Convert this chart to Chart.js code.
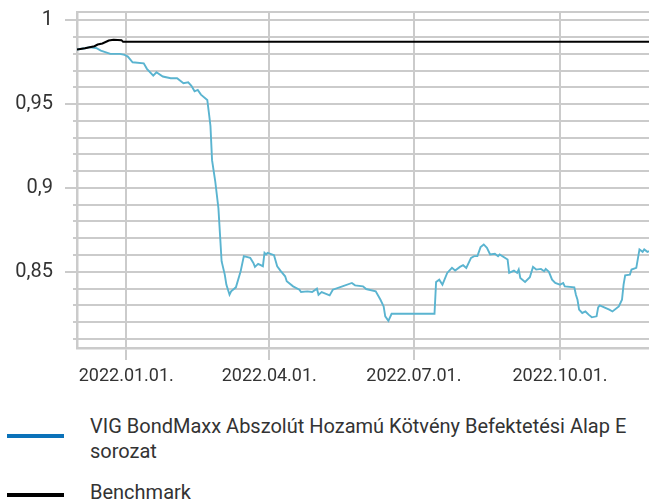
<!DOCTYPE html>
<html>
<head>
<meta charset="utf-8">
<script src="https://cdn.jsdelivr.net/npm/chart.js@4/dist/chart.umd.min.js"></script>
<style>
  body { margin: 0; background: #fff; font-family: Roboto, sans-serif; color: #333; }
  #wrap { position: relative; width: 649px; height: 500px; overflow: hidden; }
  #chart-box { position: absolute; left: 0; top: 0; width: 649px; height: 392px; }
  .swatch { position: absolute; left: 7px; width: 57px; height: 4px; }
  .legend-text { position: absolute; left: 90px; width: 552px; font-size: 20px; line-height: 25px; }
</style>
</head>
<body>
<div id="wrap">
  <div id="chart-box"><canvas id="fund-chart"></canvas></div>
  <div id="legend"></div>
</div>
<script>
// napok 2022.01.01-tol szamolva
const fundDays = [-31, -26, -23, -19, -16, -10, -4, -1, 1, 4, 11, 13, 17, 19, 23, 28, 32, 36, 39, 41, 43, 45, 47, 51,
  52, 53, 54, 56, 58, 59, 60, 62, 63, 65, 66, 69, 72, 74, 78, 80, 81, 83, 86, 87, 88, 89, 93, 95, 97, 100, 101, 105,
  109, 110, 114, 117, 120, 121, 123, 128, 130, 136, 142, 144, 149, 151, 157, 160, 162, 163, 165, 167, 194, 195, 197,
  199, 202, 205, 207, 210, 212, 214, 217, 219, 221, 223, 225, 227, 229, 232, 234, 235, 240, 241, 244, 246, 247, 248,
  251, 254, 256, 258, 261, 263, 264, 266, 268, 270, 273, 275, 276, 282, 283, 284, 285, 287, 289, 291, 293, 296, 297,
  298, 304, 306, 310, 312, 313, 314, 317, 318, 321, 323, 325, 326, 328, 329];
const fundValues = [0.9826, 0.9834, 0.9840, 0.9835, 0.9820, 0.9800, 0.9800, 0.9794, 0.9784, 0.9750, 0.9744, 0.9711,
  0.9670, 0.9690, 0.9665, 0.9655, 0.9655, 0.9625, 0.9630, 0.9610, 0.9577, 0.9585, 0.9557, 0.9525,
  0.9450, 0.9370, 0.9166, 0.9040, 0.8880, 0.8723, 0.8563, 0.8483, 0.8423, 0.8363, 0.8383, 0.8407, 0.8503, 0.8593,
  0.8583, 0.8553, 0.8529, 0.8547, 0.8533, 0.8613, 0.8603, 0.8613, 0.8599, 0.8533, 0.8507, 0.8473, 0.8443, 0.8413,
  0.8393, 0.8379, 0.8383, 0.8379, 0.8399, 0.8363, 0.8379, 0.8359, 0.8393, 0.8413, 0.8433, 0.8419, 0.8413, 0.8397,
  0.8383, 0.8333, 0.8293, 0.8234, 0.8207, 0.8249, 0.8249, 0.8439, 0.8453,
  0.8423, 0.8493, 0.8523, 0.8507, 0.8529, 0.8539, 0.8523, 0.8583, 0.8593, 0.8593, 0.8647, 0.8663, 0.8643, 0.8603,
  0.8607, 0.8593, 0.8603, 0.8573, 0.8493, 0.8507, 0.8493, 0.8513, 0.8463,
  0.8439, 0.8467, 0.8529, 0.8513, 0.8517, 0.8503, 0.8517, 0.8499, 0.8453, 0.8433, 0.8423, 0.8433, 0.8413, 0.8407,
  0.8363, 0.8333, 0.8274, 0.8254, 0.8263, 0.8244, 0.8228, 0.8234, 0.8287,
  0.8299, 0.8274, 0.8263, 0.8293, 0.8333, 0.8423, 0.8479, 0.8483, 0.8513, 0.8523, 0.8633, 0.8619, 0.8633, 0.8619,
  0.8623];

const benchDays = [-31, -26, -20, -18, -15, -11, -8, -3, -2, 329];
const benchValues = [0.9826, 0.9834, 0.9846, 0.9856, 0.9862, 0.9880, 0.9884, 0.9882, 0.9872, 0.9872];

const seriesNames = ["VIG BondMaxx Abszolút Hozamú Kötvény Befektetési Alap E sorozat", "Benchmark"];

const xTickDays = [0, 90, 181, 273];
const xTickLabels = ["2022.01.01.", "2022.04.01.", "2022.07.01.", "2022.10.01."];
const yLabelValues = [0.85, 0.9, 0.95, 1];

const gridColor = "#cbcbcb";

function isMajor(v) {
  return yLabelValues.some(l => Math.abs(l - v) < 1e-6);
}

// vizszintes racsvonalak az adatsorok ala + hosszabb osztasvonal a feliratozott ertekeknel
const gridHelper = {
  id: "gridHelper",
  beforeDatasetsDraw(chart) {
    const y = chart.scales.y;
    const area = chart.chartArea;
    const ctx = chart.ctx;
    ctx.save();
    ctx.strokeStyle = gridColor;
    ctx.lineWidth = 2;
    y.ticks.forEach(t => {
      const py = Math.round(y.getPixelForValue(t.value));
      ctx.beginPath();
      ctx.moveTo(area.left, py);
      ctx.lineTo(area.right, py);
      ctx.stroke();
    });
    yLabelValues.forEach(v => {
      const py = Math.round(y.getPixelForValue(v));
      ctx.beginPath();
      ctx.moveTo(area.left - 12, py);
      ctx.lineTo(area.left, py);
      ctx.stroke();
    });
    ctx.restore();
  }
};

let ctx_fund = document.getElementById("fund-chart").getContext("2d");
let chart_fund = new Chart(ctx_fund, {
  type: "line",
  data: {
    datasets: [
      {
        label: seriesNames[0],
        data: fundDays.map((d, i) => ({ x: d, y: fundValues[i] })),
        borderColor: "#5ab4d0",
        borderWidth: 1.9,
        order: 1,
      },
      {
        label: seriesNames[1],
        data: benchDays.map((d, i) => ({ x: d, y: benchValues[i] })),
        borderColor: "#000",
        borderWidth: 2,
        order: 0,
      },
    ],
  },
  options: {
    responsive: true,
    maintainAspectRatio: false,
    animation: false,
    layout: { padding: { left: 12, top: 12, right: 0, bottom: 0 } },
    elements: {
      point: { radius: 0 },
      line: { tension: 0 },
    },
    plugins: {
      legend: { display: false },
      tooltip: { enabled: false },
    },
    scales: {
      x: {
        type: "linear",
        min: -31,
        max: 329,
        afterBuildTicks: (scale) => {
          scale.ticks = xTickDays.map(v => ({ value: v }));
        },
        afterFit: (scale) => {
          scale.height = 44;
          scale.paddingLeft = 0;
          scale.paddingRight = 0;
        },
        ticks: {
          autoSkip: false,
          maxRotation: 0,
          padding: 6,
          color: "#333",
          font: { family: "Roboto", size: 18 },
          callback: (value) => xTickLabels[xTickDays.indexOf(value)],
        },
        grid: { color: gridColor, lineWidth: 2, tickLength: 12, tickColor: gridColor, tickWidth: 2 },
        border: { color: gridColor, width: 2.5 },
      },
      y: {
        min: 0.8045,
        max: 1.005,
        afterBuildTicks: (scale) => {
          const t = [];
          for (let k = 81; k <= 100; k++) t.push({ value: k / 100 });
          t.push({ value: 1.005 });
          scale.ticks = t;
        },
        afterFit: (scale) => {
          scale.width = 65;
          scale.paddingTop = 0;
          scale.paddingBottom = 0;
        },
        ticks: {
          autoSkip: false,
          padding: 20,
          color: "#333",
          font: { family: "Roboto", size: 20 },
          callback: (value) => (isMajor(value) ? String(value).replace(".", ",") : ""),
        },
        grid: {
          color: gridColor,
          lineWidth: 2,
          tickLength: 4,
          tickWidth: 2,
          tickColor: (c) => (c.tick && c.tick.value > 1.001 ? "transparent" : gridColor),
        },
        border: { color: gridColor, width: 2.5 },
      },
    },
  },
  plugins: [gridHelper],
});

// jelmagyarazat
const legendColors = ["#0b72b9", "#000"];
const legendTops = [414, 480];
const legendEl = document.getElementById("legend");
seriesNames.forEach((name, i) => {
  const sw = document.createElement("div");
  sw.className = "swatch";
  sw.style.background = legendColors[i];
  sw.style.top = (i === 0 ? 434 : 493) + "px";
  legendEl.appendChild(sw);
  const tx = document.createElement("div");
  tx.className = "legend-text";
  tx.style.top = legendTops[i] + "px";
  tx.textContent = name;
  legendEl.appendChild(tx);
});
</script>
</body>
</html>
